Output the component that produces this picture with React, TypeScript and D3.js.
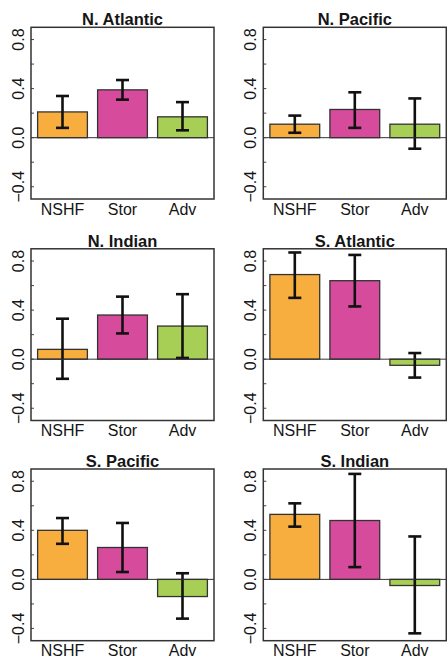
import React from 'react';
import * as d3 from 'd3';

// panel titles, bar categories and values
const regions = ['N. Atlantic', 'N. Pacific', 'N. Indian', 'S. Atlantic', 'S. Pacific', 'S. Indian'];
const categories = ['NSHF', 'Stor', 'Adv'];
const colors = ['#F7AE3F', '#D64B9B', '#A8CF55'];

const means = [
  [0.21, 0.39, 0.17],
  [0.11, 0.23, 0.11],
  [0.08, 0.36, 0.27],
  [0.69, 0.64, -0.05],
  [0.40, 0.26, -0.14],
  [0.53, 0.48, -0.05],
];
const lower = [
  [0.08, 0.31, 0.06],
  [0.04, 0.08, -0.09],
  [-0.16, 0.21, 0.01],
  [0.50, 0.43, -0.15],
  [0.29, 0.06, -0.32],
  [0.43, 0.10, -0.44],
];
const upper = [
  [0.34, 0.47, 0.29],
  [0.18, 0.37, 0.32],
  [0.33, 0.51, 0.53],
  [0.87, 0.85, 0.05],
  [0.50, 0.46, 0.05],
  [0.62, 0.86, 0.35],
];
const yTicks = [-0.4, -0.2, 0, 0.2, 0.4, 0.6, 0.8];
const yLabels = [-0.4, 0, 0.4, 0.8];

const W = 447;
const H = 659;
const boxW = 183;
const boxH = 171.7;
const colX = [31, 263.3];
const rowY = [27.3, 248.8, 469];
const font = '"Liberation Sans", Arial, Helvetica, sans-serif';

const fmt = (v: number) => (v < 0 ? '\u2212' : '') + Math.abs(v).toFixed(1);

const Panel = ({ idx }: { idx: number }) => {
  const x0 = colX[idx % 2];
  const y0 = rowY[Math.floor(idx / 2)];
  const x = d3.scaleBand().domain(categories).range([x0, x0 + boxW]).paddingInner(0.17).paddingOuter(0.11);
  const y = d3.scaleLinear().domain([-0.5, 0.9]).range([y0 + boxH, y0]);
  const capW = 13;

  return (
    <g>
      <text x={x0 + boxW / 2} y={y0 - 2} textAnchor="middle" fontSize={16.5} fontWeight="bold" fill="#151515">
        {regions[idx]}
      </text>
      {categories.map((c, i) => {
        const v = means[idx][i];
        const cx = x(c)! + x.bandwidth() / 2;
        return (
          <g key={c}>
            <rect
              x={x(c)}
              y={y(Math.max(0, v))}
              width={x.bandwidth()}
              height={Math.abs(y(v) - y(0))}
              fill={colors[i]}
              stroke="#333"
              strokeWidth={1.3}
            />
            <line x1={cx} x2={cx} y1={y(lower[idx][i])} y2={y(upper[idx][i])} stroke="#111" strokeWidth={2.6} />
            <line x1={cx - capW / 2} x2={cx + capW / 2} y1={y(lower[idx][i])} y2={y(lower[idx][i])} stroke="#111" strokeWidth={2.6} />
            <line x1={cx - capW / 2} x2={cx + capW / 2} y1={y(upper[idx][i])} y2={y(upper[idx][i])} stroke="#111" strokeWidth={2.6} />
            <text x={cx} y={y0 + boxH + 15.5} textAnchor="middle" fontSize={16} fill="#151515">
              {c}
            </text>
          </g>
        );
      })}
      <line x1={x0} x2={x0 + boxW} y1={y(0)} y2={y(0)} stroke="#333" strokeWidth={1} />
      {yTicks.map((t) => (
        <line key={t} x1={x0} x2={x0 + 3} y1={y(t)} y2={y(t)} stroke="#444" strokeWidth={1} />
      ))}
      {yLabels.map((t) => (
        <text
          key={t}
          transform={`translate(${x0 - 7},${y(t)}) rotate(-90)`}
          textAnchor="middle"
          fontSize={16}
          fill="#151515"
        >
          {fmt(t)}
        </text>
      ))}
      <rect x={x0} y={y0} width={boxW} height={boxH} fill="none" stroke="#333" strokeWidth={1.5} />
    </g>
  );
};

export default function App() {
  return (
    <svg
      width={W}
      height={H}
      style={{ position: 'absolute', left: 0, top: 0, background: '#fff' }}
      fontFamily={font}
    >
      <rect width={W} height={H} fill="#fff" />
      {regions.map((r, i) => (
        <Panel key={r} idx={i} />
      ))}
    </svg>
  );
}
